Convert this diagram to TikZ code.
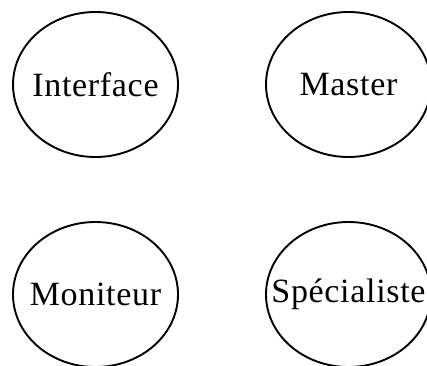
\documentclass[tikz,border=0pt]{standalone}
\usepackage{fontspec}
\setmainfont{Liberation Serif}
\usetikzlibrary{shapes.geometric}

\tikzset{
    roleellipse/.style={draw, ellipse, line width=1.9pt, inner sep=0pt,
        minimum width=165pt, minimum height=145pt},
    rolename/.style={font=\fontsize{34}{40}\selectfont\addfontfeature{LetterSpace=2}}
}

\begin{document}
\begin{tikzpicture}[x=1pt, y=-1pt]
    \useasboundingbox (0,0) rectangle (427,365);

    % Top row
    \node[roleellipse] (interface) at (95.5,84.5) {};
    \node[rolename] (interfacetext) at (interface.center) {Interface};

    \node[roleellipse] (master) at (348.5,84.5) {};
    \node[rolename] (mastertext) at (master.center) {Master};

    % Bottom row
    \node[roleellipse] (moniteur) at (95.5,294.5) {};
    \node[rolename] (moniteurtext) at (moniteur.center) {Moniteur};

    \node[roleellipse] (specialiste) at (348.5,294.5) {};
    \node[rolename] (specialistetext) at (specialiste.center) {Spécialiste};
\end{tikzpicture}
\end{document}
